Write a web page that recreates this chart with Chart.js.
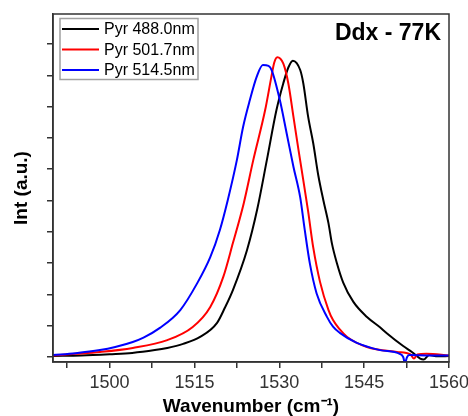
<!DOCTYPE html>
<html>
<head>
<meta charset="utf-8">
<script src="https://cdn.jsdelivr.net/npm/chart.js@4/dist/chart.umd.min.js"></script>
<style>
  html, body { margin: 0; padding: 0; background: #fff; }
  #c { display: block; }
</style>
</head>
<body>
<canvas id="c" width="468" height="416"></canvas>
<script>
// ---- Data ----
const seriesLabels = ['Pyr 488.0nm', 'Pyr 501.7nm', 'Pyr 514.5nm'];
const seriesColors = ['#000000', '#ff0000', '#0000ff'];
const chartTitle = 'Ddx - 77K';
const xTitle = 'Wavenumber (cm\u207B\u00B9)';
const yTitle = 'Int (a.u.)';

const xBlack = [1490, 1495, 1500, 1504, 1508, 1510.2, 1513, 1516, 1519, 1520.4, 1521.8, 1524.3, 1526.1, 1527.8, 1529.5, 1530.7, 1531.6, 1532.4, 1533.7, 1534.25, 1535.1, 1536.0, 1536.9, 1537.8, 1538.7, 1539.3, 1540.2, 1541.3, 1543.1, 1545.5, 1547.8, 1549.0, 1551.9, 1553.5, 1554.9, 1555.5, 1556.5, 1558, 1560];
const yBlack = [0.03, 0.05, 0.09, 0.13, 0.22, 0.29, 0.42, 0.64, 1.09, 1.58, 2.14, 3.42, 4.72, 6.29, 7.89, 8.74, 9.25, 9.47, 9.17, 8.74, 7.68, 6.83, 5.80, 5.00, 4.27, 3.63, 2.99, 2.38, 1.76, 1.28, 0.95, 0.76, 0.35, 0.15, -0.05, -0.08, 0.06, 0.02, 0.03];

const xRed = [1490, 1494, 1498.3, 1504.1, 1510.2, 1514.7, 1517.8, 1520.1, 1521.8, 1523.7, 1525.4, 1527.5, 1528.6, 1529.1, 1529.65, 1530.7, 1531.6, 1532.5, 1533.4, 1534.2, 1535.1, 1536.0, 1537.2, 1538.7, 1539.5, 1540.7, 1542.0, 1545.5, 1550.8, 1553.2, 1553.8, 1554.4, 1556, 1560];
const yRed = [0.05, 0.10, 0.16, 0.29, 0.54, 0.96, 1.60, 2.56, 3.64, 4.90, 6.29, 7.89, 8.95, 9.40, 9.58, 9.38, 8.74, 7.68, 6.61, 5.70, 4.65, 3.50, 2.40, 1.50, 1.18, 0.88, 0.64, 0.32, 0.16, 0.08, -0.05, 0.08, 0.10, 0.05];

const xBlue = [1490, 1494, 1498.3, 1501, 1504.1, 1506, 1508.9, 1512.5, 1515.5, 1517.8, 1519.5, 1520.9, 1522.5, 1523.6, 1524.8, 1526.0, 1527.1, 1528.1, 1528.65, 1530.1, 1531.3, 1532.5, 1533.7, 1534.5, 1535.4, 1536.6, 1538.4, 1539.5, 1540.7, 1543.7, 1547.8, 1551.3, 1551.9, 1552.2, 1552.6, 1553, 1556, 1560];
const yBlue = [0.06, 0.12, 0.22, 0.32, 0.48, 0.62, 0.93, 1.50, 2.36, 3.19, 4.06, 5.02, 6.29, 7.35, 8.21, 8.95, 9.33, 9.30, 9.17, 8.21, 7.15, 6.08, 5.10, 4.06, 2.99, 2.03, 1.29, 0.97, 0.77, 0.45, 0.22, 0.10, 0.00, -0.19, 0.00, 0.06, 0.05, 0.05];

const xTickValues = [1492.5, 1500, 1507.5, 1515, 1522.5, 1530, 1537.5, 1545, 1552.5, 1560];
const xLabelValues = [1500, 1515, 1530, 1545, 1560];
const yTickValues = [0, 1, 2, 3, 4, 5, 6, 7, 8, 9, 10];

const FONT = '"Liberation Sans", Arial, Helvetica, sans-serif';

function pts(xs, ys) { return xs.map((x, i) => ({ x: x, y: ys[i] })); }

const framePlugin = {
  id: 'frame',
  afterDatasetsDraw(chart) {
    const { ctx, chartArea: a } = chart;
    ctx.save();
    ctx.strokeStyle = '#333';
    ctx.lineWidth = 1.5;
    ctx.strokeRect(a.left, a.top, a.right - a.left, a.bottom - a.top);
    ctx.restore();
  },
  afterDraw(chart) {
    const { ctx, chartArea: a } = chart;
    ctx.save();
    // title
    ctx.fillStyle = '#000';
    ctx.font = 'bold 23px ' + FONT;
    ctx.textAlign = 'right';
    ctx.textBaseline = 'alphabetic';
    ctx.fillText(chartTitle, a.right - 8, a.top + 26);
    // legend
    const lx = a.left + 7, ly = a.top + 4.5, lw = 138, lh = 61;
    ctx.fillStyle = '#fff';
    ctx.fillRect(lx, ly, lw, lh);
    ctx.strokeStyle = '#a0a0a0';
    ctx.lineWidth = 1.5;
    ctx.strokeRect(lx, ly, lw, lh);
    ctx.font = '16px ' + FONT;
    ctx.textAlign = 'left';
    ctx.textBaseline = 'middle';
    chart.data.datasets.forEach((ds, i) => {
      const y = ly + 10.5 + i * 20.5;
      ctx.strokeStyle = ds.borderColor;
      ctx.lineWidth = 2;
      ctx.beginPath();
      ctx.moveTo(lx + 2, y);
      ctx.lineTo(lx + 39, y);
      ctx.stroke();
      ctx.fillStyle = '#000';
      ctx.fillText(ds.label, lx + 44, y + 1);
    });
    ctx.restore();
  }
};

new Chart(document.getElementById('c'), {
  type: 'line',
  data: {
    datasets: [
      { label: seriesLabels[0], data: pts(xBlack, yBlack), borderColor: seriesColors[0], order: 3 },
      { label: seriesLabels[1], data: pts(xRed, yRed), borderColor: seriesColors[1], order: 2 },
      { label: seriesLabels[2], data: pts(xBlue, yBlue), borderColor: seriesColors[2], order: 1 }
    ]
  },
  options: {
    responsive: false,
    animation: false,
    layout: { padding: { left: 0, right: 19, top: 14, bottom: 0 } },
    plugins: { legend: { display: false }, tooltip: { enabled: false }, title: { display: false } },
    elements: {
      point: { radius: 0 },
      line: { borderWidth: 2, cubicInterpolationMode: 'monotone', fill: false }
    },
    scales: {
      x: {
        type: 'linear',
        min: 1490, max: 1560,
        afterBuildTicks: ax => { ax.ticks = xTickValues.map(v => ({ value: v })); },
        ticks: {
          autoSkip: false, maxRotation: 0, color: '#333', padding: 4,
          font: { family: FONT, size: 18 },
          callback: v => (xLabelValues.includes(v) ? String(v) : '')
        },
        grid: { drawOnChartArea: false, drawTicks: true, tickLength: 6, color: '#333', lineWidth: 1.5 },
        border: { display: true, color: '#333', width: 1.5 },
        title: {
          display: true, text: xTitle, color: '#000',
          font: { family: FONT, size: 19, weight: 'bold', lineHeight: 1 },
          padding: { top: 0, bottom: 0 }
        },
        afterFit: s => { s.height = 54; s.paddingRight = 0; s.paddingLeft = 0; }
      },
      y: {
        type: 'linear',
        min: -0.16, max: 10.96,
        afterBuildTicks: ax => { ax.ticks = yTickValues.map(v => ({ value: v })); },
        ticks: { display: false },
        grid: { drawOnChartArea: false, drawTicks: true, tickLength: 6, color: '#333', lineWidth: 1.5 },
        border: { display: true, color: '#333', width: 1.5 },
        title: {
          display: true, text: yTitle, color: '#000',
          font: { family: FONT, size: 19, weight: 'bold', lineHeight: 1 },
          padding: { top: 12, bottom: 0 }
        },
        afterFit: s => { s.width = 53; s.paddingTop = 0; s.paddingBottom = 0; }
      }
    }
  },
  plugins: [framePlugin]
});
</script>
</body>
</html>
